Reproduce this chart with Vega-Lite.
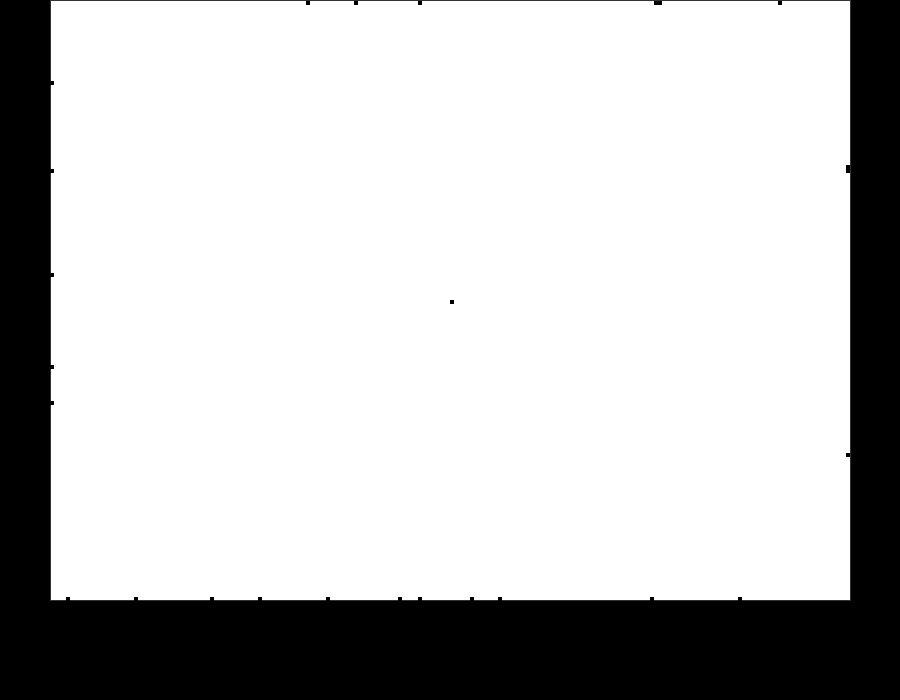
{
  "$schema": "https://vega.github.io/schema/vega-lite/v6.json",
  "autosize": {"type": "none"},
  "padding": {"left": 50, "top": 0, "right": 50, "bottom": 100},
  "width": 800,
  "height": 600,
  "background": "#000000",
  "data": {
    "values": [
      {"x": 2.25, "y": 0.17},
      {"x": 10.75, "y": 0.17},
      {"x": 20.25, "y": 0.17},
      {"x": 26.25, "y": 0.17},
      {"x": 34.75, "y": 0.17},
      {"x": 43.75, "y": 0.17},
      {"x": 46.25, "y": 0.17},
      {"x": 52.75, "y": 0.17},
      {"x": 56.25, "y": 0.17},
      {"x": 75.25, "y": 0.17},
      {"x": 86.25, "y": 0.17},
      {"x": 0.25, "y": 86.17},
      {"x": 0.25, "y": 71.5},
      {"x": 0.25, "y": 54.17},
      {"x": 0.25, "y": 38.83},
      {"x": 0.25, "y": 32.83},
      {"x": 32.25, "y": 99.5},
      {"x": 38.25, "y": 99.5},
      {"x": 46.25, "y": 99.5},
      {"x": 75.75, "y": 99.5},
      {"x": 76.25, "y": 99.5},
      {"x": 91.25, "y": 99.5},
      {"x": 99.75, "y": 72.17},
      {"x": 99.75, "y": 71.5},
      {"x": 99.75, "y": 24.17},
      {"x": 50.25, "y": 49.67}
    ]
  },
  "mark": {
    "type": "square",
    "size": 16,
    "filled": true,
    "color": "#000000",
    "opacity": 1
  },
  "encoding": {
    "x": {
      "field": "x",
      "type": "quantitative",
      "scale": {"domain": [0, 100], "nice": false, "zero": false},
      "axis": null
    },
    "y": {
      "field": "y",
      "type": "quantitative",
      "scale": {"domain": [0, 100], "nice": false, "zero": false},
      "axis": null
    }
  },
  "config": {
    "view": {"fill": "#ffffff", "stroke": "#333333", "strokeWidth": 1}
  }
}
